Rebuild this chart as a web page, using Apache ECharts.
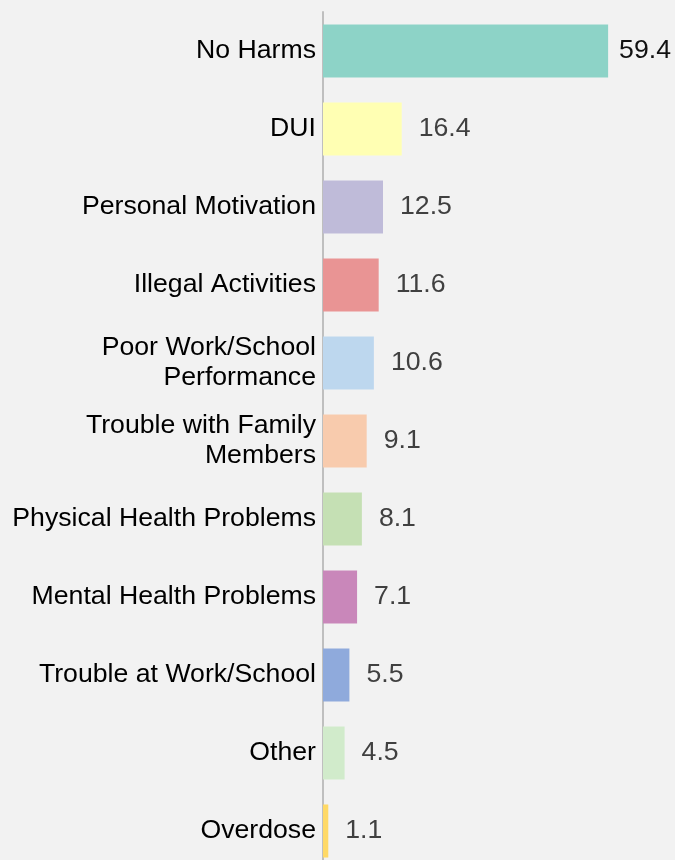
<!DOCTYPE html>
<html>
<head>
<meta charset="utf-8">
<script src="https://cdn.jsdelivr.net/npm/echarts@6/dist/echarts.min.js"></script>
<style>
html,body{margin:0;padding:0;background:#f2f2f2;overflow:hidden;height:860px;}
#c{width:675px;height:870px;}
</style>
</head>
<body>
<div id="c"></div>
<script>
const categories = ["No Harms","DUI","Personal Motivation","Illegal Activities","Poor Work/School\nPerformance","Trouble with Family\nMembers","Physical Health Problems","Mental Health Problems","Trouble at Work/School","Other","Overdose"];
const values = [59.4,16.4,12.5,11.6,10.6,9.1,8.1,7.1,5.5,4.5,1.1];
const palette = ["#8dd3c7","#ffffb3","#bfbbd9","#e99494","#bdd7ee","#f8cbad","#c5e0b4","#c987ba","#8faadc","#d1ebcb","#ffd966"];

const FONT = "'Liberation Sans', Arial, sans-serif";
const chart = echarts.init(document.getElementById('c'));
chart.setOption({
  backgroundColor: '#f2f2f2',
  animation: false,
  grid: {left: 323, width: 336, top: 12, bottom: 0, containLabel: false},
  xAxis: {
    type: 'value', min: 0, max: 70, show: false
  },
  yAxis: {
    type: 'category', data: categories, inverse: true,
    axisLine: {show: true, lineStyle: {color: '#bfbfbf', width: 2}},
    axisTick: {show: false},
    splitLine: {show: false},
    axisLabel: {
      color: '#000', fontFamily: FONT, fontSize: 26.67, lineHeight: 30,
      align: 'right', margin: 7, padding: [0, 0, 6, 0]
    }
  },
  series: [{
    type: 'bar',
    barCategoryGap: '32%',
    data: values.map((v, i) => ({
      value: v,
      itemStyle: {color: palette[i]},
      label: i === 0 ? {distance: 11, color: '#111'} : {}
    })),
    label: {
      show: true, position: 'right', distance: 17,
      color: '#404040', fontFamily: FONT, fontSize: 26.67,
      padding: [4, 0, 0, 0]
    }
  }]
});
</script>
</body>
</html>
